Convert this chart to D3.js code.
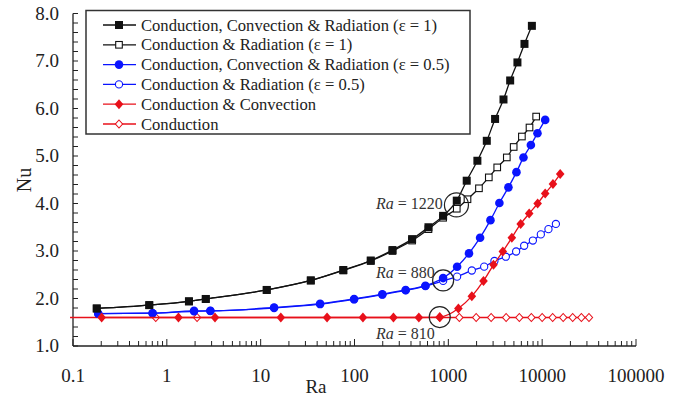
<!DOCTYPE html>
<html>
<head>
<meta charset="utf-8">
<script src="https://cdn.jsdelivr.net/npm/d3@7"></script>
<style>
  body { margin: 0; background: #fff; }
</style>
</head>
<body>
<svg width="677" height="396" font-family="'Liberation Serif', 'Times New Roman', Times, serif"></svg>
<script>
// series values: [Ra, Nu]
const ccrE1 = [[0.179,1.79],[0.65,1.86],[1.72,1.94],[2.6,1.99],[11.6,2.18],[34.2,2.38],[76,2.60],[149,2.80],[254,3.02],[411,3.25],[614,3.50],[880,3.74],[1230,4.06],[1570,4.48],[2040,4.90],[2570,5.32],[3150,5.78],[3870,6.19],[4560,6.59],[5450,6.97],[6480,7.36],[7770,7.74]];
const crE1 = [[0.179,1.79],[0.65,1.86],[1.72,1.94],[2.6,1.99],[11.6,2.18],[34.2,2.38],[76,2.59],[149,2.79],[254,3.00],[411,3.22],[614,3.46],[880,3.70],[1230,3.89],[1600,4.09],[2120,4.32],[2700,4.55],[3320,4.76],[4200,4.97],[4970,5.19],[6080,5.41],[7330,5.60],[8630,5.83]];
const ccrE05 = [[0.186,1.68],[0.705,1.69],[1.95,1.74],[2.91,1.74],[13.9,1.81],[43,1.89],[99,1.99],[198,2.09],[351,2.18],[570,2.27],[880,2.43],[1240,2.67],[1660,2.95],[2180,3.28],[2810,3.65],[3500,4.01],[4370,4.34],[5320,4.66],[6320,4.97],[7580,5.23],[8910,5.48],[10770,5.76]];
const crE05 = [[0.186,1.68],[0.705,1.69],[1.95,1.73],[2.91,1.74],[13.9,1.80],[43,1.88],[99,1.98],[198,2.08],[351,2.17],[570,2.26],[880,2.37],[1240,2.46],[1780,2.59],[2410,2.67],[3100,2.79],[4100,2.88],[5280,2.99],[6430,3.11],[7960,3.22],[9680,3.35],[11670,3.46],[14000,3.57]];
const ccE0 = [[0.202,1.60],[1.33,1.60],[3.26,1.60],[16.4,1.60],[51,1.60],[123,1.60],[260,1.60],[485,1.60],[810,1.61],[1280,1.79],[1780,2.05],[2370,2.37],[3030,2.71],[3810,2.99],[4750,3.28],[5900,3.57],[7270,3.79],[8950,4.00],[10770,4.21],[13030,4.41],[15560,4.62]];
const cond = [[0.762,1.60],[2.10,1.60],[810,1.60],[1310,1.60],[1980,1.60],[2860,1.60],[4130,1.60],[5710,1.60],[7670,1.60],[10000,1.60],[12940,1.60],[16750,1.60],[21150,1.60],[26180,1.60],[31550,1.60]];
const condLineStart = 0.093;   // conduction line runs in from the left edge

const legendLabels = ["Conduction, Convection & Radiation (\u03b5 = 1)", "Conduction & Radiation (\u03b5 = 1)",
  "Conduction, Convection & Radiation (\u03b5 = 0.5)", "Conduction & Radiation (\u03b5 = 0.5)",
  "Conduction & Convection", "Conduction"];
const xTickValues = [0.1, 1, 10, 100, 1000, 10000, 100000];
const xTickLabels = ["0.1", "1", "10", "100", "1000", "10000", "100000"];
const yTickValues = [1, 2, 3, 4, 5, 6, 7, 8];
const marked = [[1220, 3.97, "1220"], [880, 2.38, "880"], [810, 1.61, "810"]];

const svg = d3.select('svg');
const x = d3.scaleLog().domain([0.1, 100000]).range([73, 636]);
const y = d3.scaleLinear().domain([1, 8]).range([346, 13.5]);

const RED = '#e8101a', BLUE = '#0a14ff', BLACK = '#111', INK = '#222';

// axes
const ax = svg.append('g').attr('stroke', INK).attr('stroke-width', 1.3);
ax.append('line').attr('x1', x(0.1)).attr('x2', x(100000)).attr('y1', y(1)).attr('y2', y(1));
ax.append('line').attr('x1', x(0.1)).attr('x2', x(0.1)).attr('y1', y(1)).attr('y2', y(8));
d3.range(1, 8.01, 0.2).forEach(v => {
  ax.append('line').attr('x1', x(0.1)).attr('x2', x(0.1) + 5).attr('y1', y(v)).attr('y2', y(v)).attr('stroke-width', 1);
});
x.ticks().forEach(v => {
  const major = xTickValues.some(t => Math.abs(t - v) / t < 1e-6);
  ax.append('line').attr('x1', x(v)).attr('x2', x(v)).attr('y1', y(1)).attr('y2', y(1) - (major ? 7 : 5)).attr('stroke-width', 1);
});
svg.append('g').selectAll('text').data(yTickValues).join('text')
  .attr('x', 59).attr('y', d => y(d) + 6).attr('text-anchor', 'end').attr('fill', INK)
  .style('font-size', '19px').text(d => d.toFixed(1));
svg.append('g').selectAll('text').data(xTickValues).join('text')
  .attr('x', d => x(d)).attr('y', 382).attr('text-anchor', 'middle').attr('fill', INK)
  .style('font-size', '19px').text((d, i) => xTickLabels[i]);
svg.append('text').attr('x', 316).attr('y', 393).attr('text-anchor', 'middle').attr('fill', INK).style('font-size', '19px').text('Ra');
svg.append('text').attr('transform', 'translate(31,180) rotate(-90)').attr('text-anchor', 'middle').attr('fill', INK).style('font-size', '20px').text('Nu');

// markers
function marker(g, kind, color, px, py) {
  if (kind === 'sq') g.append('rect').attr('x', px - 4).attr('y', py - 4).attr('width', 8).attr('height', 8).attr('fill', color);
  if (kind === 'osq') g.append('rect').attr('x', px - 3.3).attr('y', py - 3.3).attr('width', 6.6).attr('height', 6.6).attr('fill', '#fff').attr('stroke', color).attr('stroke-width', 1.1);
  if (kind === 'ci') g.append('circle').attr('cx', px).attr('cy', py).attr('r', 4.3).attr('fill', color);
  if (kind === 'oci') g.append('circle').attr('cx', px).attr('cy', py).attr('r', 3.6).attr('fill', '#fff').attr('stroke', color).attr('stroke-width', 1.1);
  if (kind === 'di') g.append('path').attr('d', `M${px},${py - 5}L${px + 4.3},${py}L${px},${py + 5}L${px - 4.3},${py}Z`).attr('fill', color);
  if (kind === 'odi') g.append('path').attr('d', `M${px},${py - 4}L${px + 3.6},${py}L${px},${py + 4}L${px - 3.6},${py}Z`).attr('fill', '#fff').attr('stroke', color).attr('stroke-width', 1.1);
}

const line = d3.line().x(d => x(d[0])).y(d => y(d[1])).curve(d3.curveMonotoneX);
const series = [
  { data: cond, color: RED, kind: 'odi', lineData: [[condLineStart, cond[0][1]]].concat(cond) },
  { data: crE05, color: BLUE, kind: 'oci' },
  { data: ccrE05, color: BLUE, kind: 'ci' },
  { data: ccE0, color: RED, kind: 'di' },
  { data: crE1, color: BLACK, kind: 'osq' },
  { data: ccrE1, color: BLACK, kind: 'sq' }
];
series.forEach(s => {
  const g = svg.append('g');
  g.append('path').attr('d', line(s.lineData || s.data)).attr('fill', 'none').attr('stroke', s.color).attr('stroke-width', 1.3);
  s.data.forEach(d => marker(g, s.kind, s.color, x(d[0]), y(d[1])));
});

// circled transition points
const ann = svg.append('g');
marked.forEach((m, i) => {
  ann.append('circle').attr('cx', x(m[0])).attr('cy', y(m[1])).attr('r', i === 0 ? 12 : 10.5)
    .attr('fill', 'none').attr('stroke', INK).attr('stroke-width', 1.2);
});
const annY = [209, 278, 339];
marked.forEach((m, i) => {
  const t = ann.append('text').attr('x', 376).attr('y', annY[i]).style('font-size', '16px').attr('fill', '#333');
  t.append('tspan').style('font-style', 'italic').text('Ra');
  t.append('tspan').text('  = ' + m[2]);
});

// legend
const lg = svg.append('g');
lg.append('rect').attr('x', 86).attr('y', 10.5).attr('width', 384).attr('height', 123.5)
  .attr('fill', '#fff').attr('stroke', '#333').attr('stroke-width', 1.5);
const legendKinds = ['sq', 'osq', 'ci', 'oci', 'di', 'odi'];
const legendColors = [BLACK, BLACK, BLUE, BLUE, RED, RED];
legendLabels.forEach((lab, i) => {
  const ly = 25 + i * 19.8;
  lg.append('line').attr('x1', 103).attr('x2', 136).attr('y1', ly).attr('y2', ly).attr('stroke', legendColors[i]).attr('stroke-width', 1.3);
  marker(lg, legendKinds[i], legendColors[i], 119, ly);
  lg.append('text').attr('x', 141).attr('y', ly + 5.5).attr('fill', INK).style('font-size', '16.6px').text(lab);
});
</script>
</body>
</html>
